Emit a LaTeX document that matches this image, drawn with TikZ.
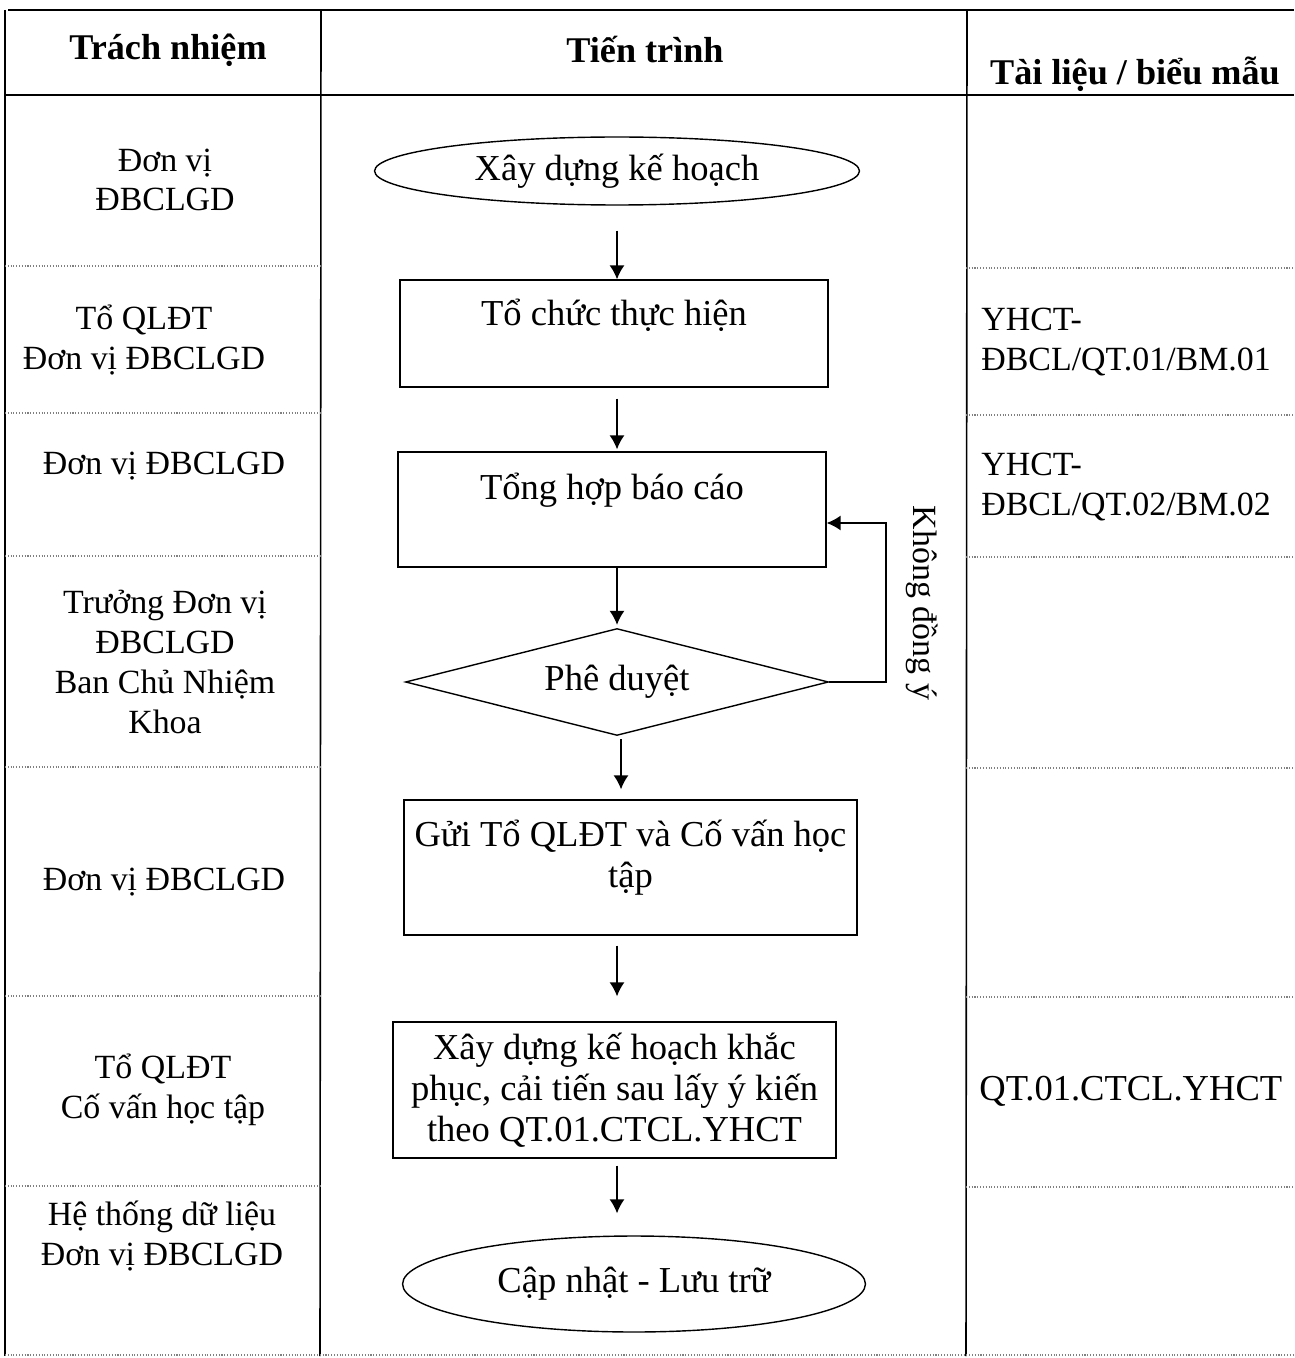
\documentclass[tikz,border=0pt]{standalone}
\usepackage{fontspec}
\setmainfont{Liberation Serif}
\usepackage{tikz}
\usetikzlibrary{arrows,arrows.meta,positioning,shapes}

\begin{document}
\begin{tikzpicture}[x=0.02cm,y=-0.02cm,
            every node/.style={font=\fontsize{19.3}{22.6}\selectfont},
            big/.style={font=\fontsize{20.8}{23.2}\selectfont},
            head/.style={font=\fontsize{20.6}{23}\selectfont\bfseries},
            who/.style={align=center,inner sep=0},
            doc/.style={align=left,anchor=west,inner sep=0},
            txt/.style={big,align=center,inner sep=0},
            box/.style={draw,rectangle,thick,inner sep=0},
            term/.style={big,draw,ellipse,thick,inner sep=0},
            ask/.style={big,draw,diamond,thick,inner sep=0,aspect=3.95},
            rowline/.style={gray,densely dotted,line width=0.6pt},
            colline/.style={black,line width=0.9pt},
            arr/.style={draw,->,thick,>={Latex[length=0.28cm,width=0.3cm]}}
          ]
          \useasboundingbox (0,0) rectangle (1294,1358);

          %table
          \draw[colline] (8,10) -- (1294,10);
          \draw[colline] (5,95) -- (1294,95);
          \draw[colline] (5,10) -- (5,1356);
          \draw[colline] (321,10) -- (320,1356);
          \draw[colline] (967,10) -- (966,1356);
          \draw[rowline] (5,1355) -- (1294,1355);
          \foreach \y in {266,413,556,767,996,1186}
            \draw[rowline] (5,\y) -- (320,\y);
          \foreach \y in {268,415,557,768,997,1187}
            \draw[rowline] (966,\y) -- (1294,\y);

          %header
          \node[head] (h1) at (168,50) {Trách nhiệm};
          \node[head] (h2) at (645,50) {Tiến trình};
          \node[head] (h3) at (1135,74) {Tài liệu / biểu mẫu};

          %responsibility
          \node[who] (r1) at (165,180) {Đơn vị\\ĐBCLGD};
          \node[who] (r2) at (144,340) {Tổ QLĐT\\Đơn vị ĐBCLGD};
          \node[who] (r3) at (164,466) {Đơn vị ĐBCLGD};
          \node[who] (r4) at (165,662) {Trưởng Đơn vị\\ĐBCLGD\\Ban Chủ Nhiệm\\Khoa};
          \node[who] (r5) at (164,882) {Đơn vị ĐBCLGD};
          \node[who] (r6) at (163,1090) {Tổ QLĐT\\Cố vấn học tập};
          \node[who] (r7) at (162,1236) {Hệ thống dữ liệu\\Đơn vị ĐBCLGD};

          %documents
          \node[doc] (d1) at (981,342) {YHCT-\\ĐBCL/QT.01/BM.01};
          \node[doc] (d2) at (981,487) {YHCT-\\ĐBCL/QT.02/BM.02};
          \node[doc,big] (d3) at (979,1091) {QT.01.CTCL.YHCT};

          %process
          \node[term,minimum width=9.7cm,minimum height=1.36cm] (plan) at (617,171) {Xây dựng kế hoạch};
          \node[box,minimum width=8.56cm,minimum height=2.14cm] (org) at (614,333.5) {};
          \node[txt] (orgtxt) at (614,315) {Tổ chức thực hiện};
          \node[box,minimum width=8.56cm,minimum height=2.3cm] (sum) at (612,509.5) {};
          \node[txt] (sumtxt) at (612,490) {Tổng hợp báo cáo};
          \node[ask,minimum width=8.46cm,minimum height=2.14cm] (appr) at (617,682) {Phê duyệt};
          \node[box,minimum width=9.06cm,minimum height=2.7cm] (send) at (630.5,867.5) {};
          \node[txt] (sendtxt) at (630.5,858) {Gửi Tổ QLĐT và Cố vấn học\\tập};
          \node[box,big,minimum width=8.86cm,minimum height=2.72cm,align=center] (fix) at (614.5,1090) {Xây dựng kế hoạch khắc\\phục, cải tiến sau lấy ý kiến\\theo QT.01.CTCL.YHCT};
          \node[term,minimum width=9.26cm,minimum height=1.92cm] (store) at (634,1284) {Cập nhật - Lưu trữ};

          %arrows
          \draw[arr,shorten <=0.5cm] (plan.south) -- (plan.south |- org.north);
          \draw[arr,shorten <=0.22cm,shorten >=0.04cm] (org.south -| plan.south) -- (plan.south |- sum.north);
          \draw[arr,shorten >=0.06cm] (sum.south -| plan.south) -- (plan.south |- appr.north);
          \draw[arr,shorten <=0.06cm,shorten >=0.2cm] ([xshift=0.08cm]appr.south) -- ([xshift=0.08cm]appr.south |- send.north);
          \draw[arr,shorten <=0.2cm,shorten >=0.5cm] (send.south -| plan.south) -- (plan.south |- fix.north);
          \draw[arr,shorten <=0.14cm,shorten >=0.44cm] (fix.south -| plan.south) -- (plan.south |- store.north);

          %loop back
          \draw[arr] (appr.east) -- ++(57,0) |- ([yshift=-0.27cm]sum.east);
          \node[rotate=-90] (nolab) at (922,603) {Không đồng ý};
      \end{tikzpicture}
\end{document}
